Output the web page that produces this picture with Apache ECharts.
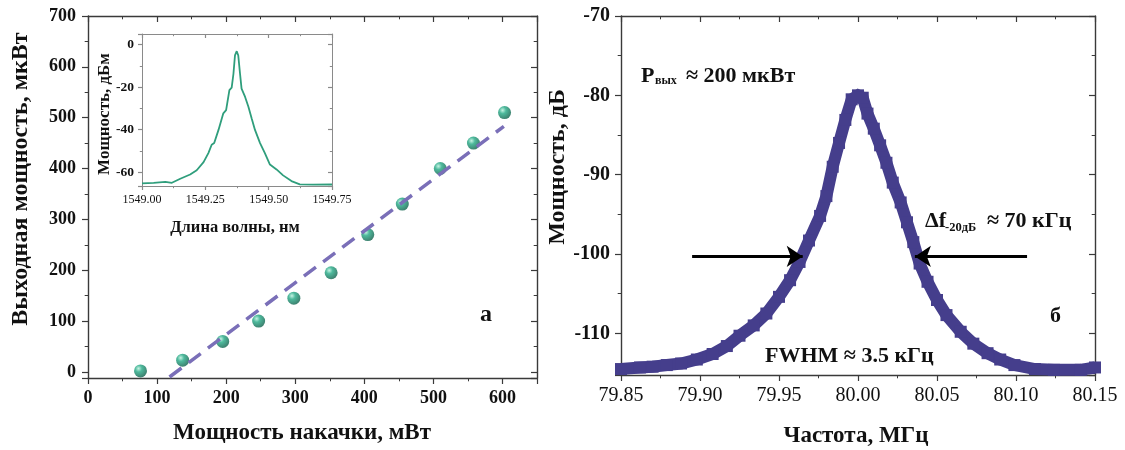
<!DOCTYPE html>
<html>
<head>
<meta charset="utf-8">
<script src="https://cdn.jsdelivr.net/npm/echarts@6/dist/echarts.min.js"></script>
<style>
html, body { margin: 0; background: #fff; }
#chart { width: 1125px; height: 450px; }
</style>
</head>
<body>
<div id="chart"></div>
<script>
// panel а: output power vs pump power
const pumpPower = [76, 137, 195, 247, 298, 352, 405, 455, 510, 558, 603];
const outPower = [2, 23, 60, 100, 145, 195, 270, 330, 400, 450, 510];
const fitPump = [118, 602];
const fitOut = [-10, 483];

// inset: optical spectrum
const insetWl = [1549.000, 1549.046, 1549.092, 1549.118, 1549.151, 1549.190, 1549.216, 1549.243, 1549.262, 1549.275,
	1549.285, 1549.302, 1549.321, 1549.332, 1549.345, 1549.354, 1549.361, 1549.367, 1549.374, 1549.380,
	1549.387, 1549.393, 1549.407, 1549.420, 1549.433, 1549.446, 1549.466, 1549.485, 1549.505, 1549.531,
	1549.557, 1549.590, 1549.623, 1549.675, 1549.750];
const insetDbm = [-65.3, -65.0, -64.6, -65.0, -63.1, -61.1, -59.1, -55.3, -51.0, -47.1,
	-46.3, -40.1, -32.3, -30.8, -21.4, -20.2, -13.7, -5.1, -3.1, -5.1,
	-13.7, -20.7, -24.6, -29.2, -34.7, -40.1, -46.3, -51.0, -56.4, -58.7,
	-61.5, -64.2, -65.7, -65.9, -65.8];

// panel б: beat-note spectrum
const freqMHz = [79.850, 79.862, 79.870, 79.879, 79.888, 79.898, 79.908, 79.917, 79.925, 79.934,
	79.942, 79.950, 79.957, 79.963, 79.969, 79.976, 79.980, 79.984, 79.988, 79.992,
	79.996, 80.000, 80.003, 80.006, 80.010, 80.014, 80.018, 80.022, 80.027, 80.031,
	80.035, 80.039, 80.044, 80.050, 80.056, 80.065, 80.073, 80.082, 80.090, 80.099,
	80.112, 80.124, 80.141, 80.150];
const powerDb = [-114.5, -114.3, -114.2, -114.0, -113.8, -113.3, -112.6, -111.6, -110.3, -109.0,
	-107.5, -105.4, -103.3, -101.0, -98.3, -95.2, -92.7, -89.0, -86.0, -83.1,
	-80.5, -80.0, -80.3, -82.3, -84.2, -86.3, -88.5, -91.0, -93.5, -96.0,
	-98.5, -101.2, -103.5, -105.8, -107.7, -109.8, -111.3, -112.5, -113.3, -114.0,
	-114.5, -114.6, -114.6, -114.3];
const arrowLevel = -100.3;
const leftArrow = [79.895, 79.965];
const rightArrow = [80.107, 80.036];

const serif = "'Liberation Serif', 'Times New Roman', serif";
const axisColor = '#3a3a3a';

const isMultiple = (v, step) => Math.abs(Math.round(v / step) * step - v) < step * 1e-6;

const makeAxis = (gridIndex, position, range, o = {}) => {
	const mirror = position === 'top' || position === 'right';
	const color = o.color || axisColor;
	return {
		type: 'value',
		gridIndex,
		position,
		min: range[0],
		max: range[1],
		interval: o.interval,
		splitNumber: o.splitNumber,
		axisLine: { show: true, onZero: false, lineStyle: { color, width: o.lineWidth || 1.4 } },
		axisTick: { show: true, inside: mirror, length: o.tick || 6, lineStyle: { color, width: 1.2 } },
		minorTick: { show: true, splitNumber: o.minor || 2, length: (o.tick || 6) * 0.55, lineStyle: { color, width: 1 } },
		splitLine: { show: false },
		axisLabel: mirror ? { show: false } : {
			show: true,
			margin: o.margin || 10,
			fontFamily: serif,
			fontSize: o.fontSize || 18,
			fontWeight: o.fontWeight || 'bold',
			color: '#111',
			showMinLabel: true,
			showMaxLabel: true,
			formatter: (v) => (isMultiple(v, o.step) ? (o.digits ? v.toFixed(o.digits) : `${Math.round(v)}`) : ''),
		},
	};
};

const text = (x, y, str, size, extra = {}) => ({
	type: 'text',
	x,
	y,
	rotation: extra.rotation || 0,
	silent: true,
	style: {
		text: str,
		font: `bold ${size}px ${serif}`,
		fill: '#111',
		align: extra.align || 'left',
		verticalAlign: 'middle',
	},
});

const sphere = {
	type: 'radial', x: 0.35, y: 0.32, r: 0.75,
	colorStops: [{ offset: 0, color: '#b8f0dc' }, { offset: 0.35, color: '#22a884' }, { offset: 1, color: '#0b5a45' }],
};

const chart = echarts.init(document.getElementById('chart'), null, { renderer: 'canvas' });
chart.setOption({
	animation: false,
	backgroundColor: '#fff',
	grid: [
		{ left: 88, top: 16, width: 449, height: 362 },
		{ left: 142, top: 34, width: 190, height: 152 },
		{ left: 621, top: 16, width: 474, height: 359 },
	],
	xAxis: [
		makeAxis(0, 'bottom', [0, 650], { interval: 100, step: 100, margin: 11 }),
		makeAxis(0, 'top', [0, 650], { interval: 100 }),
		makeAxis(1, 'bottom', [1549, 1549.75], { interval: 0.25, step: 0.25, digits: 2, fontSize: 12, fontWeight: 'normal', color: '#8a8a8a', lineWidth: 1, tick: 4, margin: 8 }),
		makeAxis(1, 'top', [1549, 1549.75], { interval: 0.25, color: '#8a8a8a', lineWidth: 1, tick: 4 }),
		makeAxis(2, 'bottom', [79.85, 80.15], { interval: 0.05, step: 0.05, digits: 2, fontSize: 20, fontWeight: 'normal', margin: 11 }),
		makeAxis(2, 'top', [79.85, 80.15], { interval: 0.05 }),
	],
	yAxis: [
		makeAxis(0, 'left', [-12, 700], { splitNumber: 7, step: 100, margin: 12 }),
		makeAxis(0, 'right', [-12, 700], { splitNumber: 7 }),
		makeAxis(1, 'left', [-66.5, 5], { splitNumber: 4, step: 20, fontSize: 13.5, color: '#8a8a8a', lineWidth: 1, tick: 4, margin: 8 }),
		makeAxis(1, 'right', [-66.5, 5], { splitNumber: 4, color: '#8a8a8a', lineWidth: 1, tick: 4 }),
		makeAxis(2, 'left', [-115.25, -70], { splitNumber: 5, step: 10, fontSize: 20, margin: 11 }),
		makeAxis(2, 'right', [-115.25, -70], { splitNumber: 5 }),
	],
	series: [
		{
			type: 'line',
			xAxisIndex: 0,
			yAxisIndex: 0,
			data: fitPump.map((x, i) => [x, fitOut[i]]),
			showSymbol: false,
			lineStyle: { color: '#7a6fb8', width: 3.5, type: [15, 9] },
			silent: true,
		},
		{
			type: 'scatter',
			xAxisIndex: 0,
			yAxisIndex: 0,
			data: pumpPower.map((x, i) => [x, outPower[i]]),
			symbolSize: 13,
			itemStyle: { color: sphere },
			silent: true,
		},
		{
			type: 'line',
			xAxisIndex: 2,
			yAxisIndex: 2,
			data: insetWl.map((x, i) => [x, insetDbm[i]]),
			showSymbol: false,
			lineStyle: { color: '#2f9e7c', width: 1.8 },
			silent: true,
		},
		{
			type: 'line',
			xAxisIndex: 4,
			yAxisIndex: 4,
			data: freqMHz.map((x, i) => [x, powerDb[i]]),
			symbol: 'rect',
			symbolSize: 12,
			showSymbol: true,
			itemStyle: { color: '#453e8c' },
			lineStyle: { color: '#453e8c', width: 12, join: 'miter' },
			silent: true,
			markLine: {
				silent: true,
				symbol: ['none', 'arrow'],
				symbolSize: 16,
				label: { show: false },
				lineStyle: { color: '#000', width: 3.2, type: 'solid' },
				data: [
					[{ coord: [leftArrow[0], arrowLevel] }, { coord: [leftArrow[1], arrowLevel] }],
					[{ coord: [rightArrow[0], arrowLevel] }, { coord: [rightArrow[1], arrowLevel] }],
				],
			},
		},
	],
	graphic: [
		text(21, 179, 'Выходная мощность, мкВт', 24, { align: 'center', rotation: Math.PI / 2 }),
		text(302, 433, 'Мощность накачки, мВт', 23, { align: 'center' }),
		text(105, 114, 'Мощность, дБм', 17, { align: 'center', rotation: Math.PI / 2 }),
		text(235, 228, 'Длина волны, нм', 16.5, { align: 'center' }),
		text(480, 315, 'а', 24),
		text(558, 167, 'Мощность, дБ', 24, { align: 'center', rotation: Math.PI / 2 }),
		text(856, 436, 'Частота, МГц', 23, { align: 'center' }),
		text(641, 76, 'P', 22),
		text(655, 81, 'вых', 12),
		text(686, 76, '≈ 200 мкВт', 22),
		text(925, 221, 'Δf', 22),
		text(945, 228, '-20дБ', 12.5),
		text(987, 221, '≈ 70 кГц', 22),
		text(765, 356, 'FWHM ≈ 3.5 кГц', 22),
		text(1050, 316, 'б', 22),
	],
});
</script>
</body>
</html>
